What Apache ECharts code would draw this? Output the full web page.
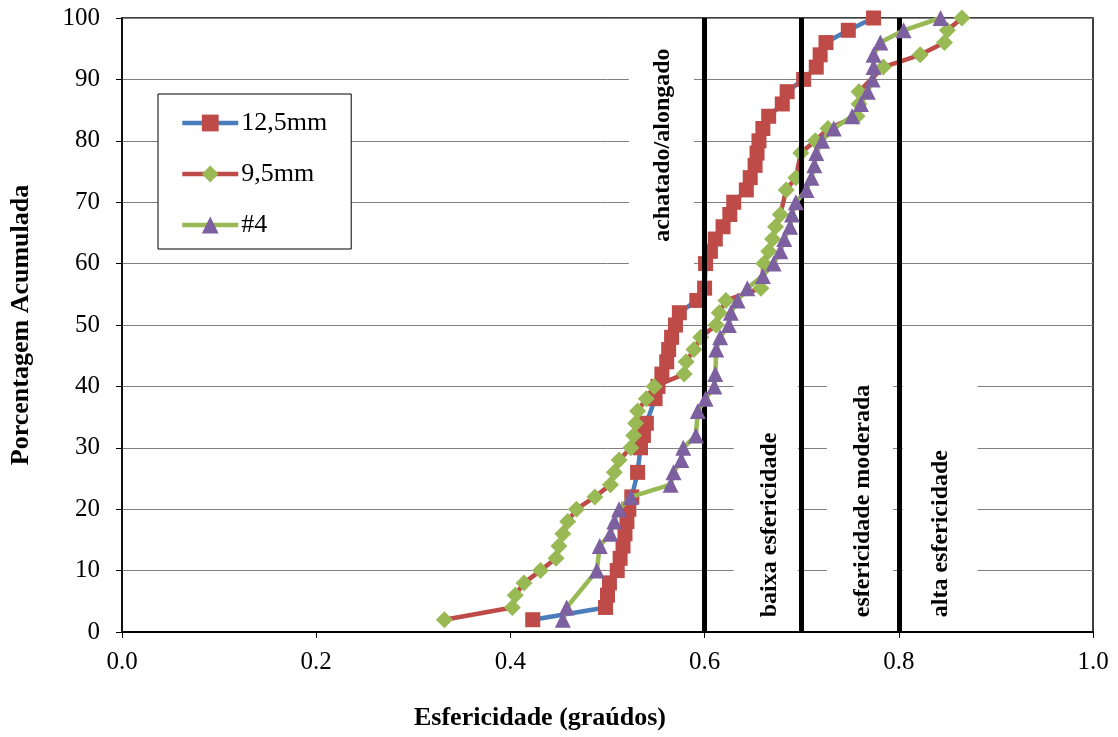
<!DOCTYPE html>
<html>
<head>
<meta charset="utf-8">
<script src="https://cdn.jsdelivr.net/npm/echarts@6/dist/echarts.min.js"></script>
<style>
  html, body { margin: 0; padding: 0; background: #fff; }
  #chart { width: 1118px; height: 737px; }
</style>
</head>
<body>
<div id="chart"></div>
<script>
// Cumulative sphericity curves for three coarse aggregate fractions
const seriesNames = ['12,5mm', '9,5mm', '#4'];

// 12,5mm fraction
const esf125 = [0.423, 0.498, 0.500, 0.502, 0.510, 0.513, 0.516, 0.518, 0.520, 0.522, 0.525,
  0.531, 0.534, 0.537, 0.540, 0.549, 0.552, 0.556, 0.561, 0.563, 0.566, 0.570, 0.574, 0.592, 0.600,
  0.601, 0.606, 0.611, 0.619, 0.626, 0.630, 0.643, 0.647, 0.652, 0.654, 0.656,
  0.660, 0.666, 0.680, 0.685, 0.702, 0.715, 0.719, 0.725, 0.748, 0.774];
const pct125 = [2, 4, 6, 8, 10, 12, 14, 16, 18, 20, 22,
  26, 30, 32, 34, 38, 40, 42, 44, 46, 48, 50, 52, 54, 56,
  60, 62, 64, 66, 68, 70, 72, 74, 76, 78, 80,
  82, 84, 86, 88, 90, 92, 94, 96, 98, 100];

// 9,5mm fraction
const esf95 = [0.332, 0.402, 0.405, 0.414, 0.431, 0.447, 0.450, 0.454, 0.459, 0.468,
  0.487, 0.503, 0.507, 0.512, 0.524, 0.527, 0.529, 0.531, 0.540, 0.548,
  0.579, 0.581, 0.589, 0.596, 0.612, 0.615, 0.622, 0.658,
  0.661, 0.666, 0.670, 0.673, 0.678, 0.684, 0.694, 0.699, 0.714,
  0.727, 0.757, 0.759, 0.759, 0.784, 0.822, 0.847, 0.850, 0.865];
const pct95 = [2, 4, 6, 8, 10, 12, 14, 16, 18, 20,
  22, 24, 26, 28, 30, 32, 34, 36, 38, 40,
  42, 44, 46, 48, 50, 52, 54, 56,
  60, 62, 64, 66, 68, 72, 74, 78, 80,
  82, 84, 86, 88, 92, 94, 96, 98, 100];

// #4 fraction
const esf4 = [0.454, 0.458, 0.489, 0.492, 0.503, 0.507, 0.512, 0.524,
  0.565, 0.568, 0.576, 0.578, 0.591, 0.593, 0.601, 0.610, 0.611,
  0.612, 0.616, 0.625, 0.627, 0.634, 0.644, 0.660, 0.671,
  0.678, 0.682, 0.688, 0.690, 0.694, 0.705, 0.710, 0.713, 0.715, 0.721,
  0.733, 0.752, 0.761, 0.768, 0.773, 0.774, 0.774, 0.781, 0.805, 0.843];
const pct4 = [2, 4, 10, 14, 16, 18, 20, 22,
  24, 26, 28, 30, 32, 36, 38, 40, 42,
  46, 48, 50, 52, 54, 56, 58, 60,
  62, 64, 66, 68, 70, 72, 74, 76, 78, 80,
  82, 84, 86, 88, 90, 92, 94, 96, 98, 100];

// Class boundaries on the sphericity axis
const classLimits = [0.6, 0.7, 0.8];
const classNames = ['achatado/alongado', 'baixa esfericidade', 'esfericidade moderada', 'alta esfericidade'];

const xTicks = [0, 0.2, 0.4, 0.6, 0.8, 1.0];

const SERIF = '"Liberation Serif", "Times New Roman", serif';

const pairs = (xs, ys) => xs.map((x, i) => [x, ys[i]]);

const chart = echarts.init(document.getElementById('chart'), null, { renderer: 'canvas' });

const styles = [
  { line: '#4A7EBB', mark: '#BE4B48', symbol: 'rect', size: 15 },
  { line: '#BE4B48', mark: '#98B954', symbol: 'diamond', size: 17 },
  { line: '#98B954', mark: '#7D60A0', symbol: 'triangle', size: 16 }
];
const dataSets = [pairs(esf125, pct125), pairs(esf95, pct95), pairs(esf4, pct4)];

const series = dataSets.map((d, i) => ({
  name: seriesNames[i],
  type: 'line',
  data: d,
  symbol: styles[i].symbol,
  symbolSize: styles[i].size,
  lineStyle: { color: styles[i].line, width: 4.5 },
  itemStyle: { color: styles[i].mark },
  z: 3 + i,
  animation: false
}));

// Thick vertical class boundaries
series.push({
  name: 'limites',
  type: 'line',
  data: [],
  z: 10,
  markLine: {
    silent: true,
    symbol: ['none', 'none'],
    label: { show: false },
    lineStyle: { color: '#000', width: 5, type: 'solid' },
    data: classLimits.map(v => ({ xAxis: v }))
  },
  animation: false
});

chart.setOption({
  animation: false,
  grid: { left: 120, right: 25, top: 18, bottom: 105, show: true, borderColor: '#000', borderWidth: 1.5, backgroundColor: 'transparent' },
  legend: {
    data: seriesNames,
    orient: 'vertical',
    left: 158,
    top: 94,
    padding: [16, 24, 11, 22],
    itemWidth: 56,
    itemHeight: 21,
    itemGap: 25,
    backgroundColor: '#fff',
    borderColor: '#000',
    borderWidth: 1,
    lineStyle: { width: 4.5 },
    textStyle: { fontFamily: SERIF, fontSize: 26, color: '#000', padding: [0, 0, 0, -2] }
  },
  xAxis: {
    type: 'value',
    min: xTicks[0],
    max: xTicks[xTicks.length - 1],
    interval: 0.2,
    axisLine: { show: true, lineStyle: { color: '#000', width: 2 } },
    axisTick: { show: true, length: 6, lineStyle: { color: '#000' } },
    splitLine: { show: false },
    axisLabel: { fontFamily: SERIF, fontSize: 25, color: '#000', margin: 18, formatter: v => v.toFixed(1) }
  },
  yAxis: {
    type: 'value',
    min: 0,
    max: 100,
    interval: 10,
    name: 'Porcentagem Acumulada',
    nameLocation: 'middle',
    nameRotate: 90,
    nameGap: 88,
    nameTextStyle: { fontFamily: SERIF, fontSize: 26, fontWeight: 'bold', color: '#000' },
    axisLine: { show: true, lineStyle: { color: '#000', width: 1.5 } },
    axisTick: { show: true, length: 6, lineStyle: { color: '#000' } },
    splitLine: { show: true, lineStyle: { color: '#808080', width: 1 } },
    axisLabel: { fontFamily: SERIF, fontSize: 25, color: '#000', margin: 22 }
  },
  series: series
});

// Text boxes naming each sphericity class, placed in data coordinates
const classBoxes = [
  { name: classNames[0], x0: 0.522, x1: 0.589, yTop: 98.8, yBot: 55.7, tx: 0.557, ty: 79.3, align: 'center' },
  { name: classNames[1], x0: 0.630, x1: 0.696, yTop: 46.5, yBot: 0.3, tx: 0.667, ty: 2.4, align: 'left' },
  { name: classNames[2], x0: 0.726, x1: 0.794, yTop: 46.5, yBot: 0.3, tx: 0.763, ty: 2.4, align: 'left' },
  { name: classNames[3], x0: 0.804, x1: 0.881, yTop: 46.5, yBot: 0.3, tx: 0.843, ty: 2.4, align: 'left' }
];

const graphics = [];
classBoxes.forEach(b => {
  const p0 = chart.convertToPixel({ gridIndex: 0 }, [b.x0, b.yTop]);
  const p1 = chart.convertToPixel({ gridIndex: 0 }, [b.x1, b.yBot]);
  graphics.push({
    type: 'rect', silent: true, z: 1,
    shape: { x: p0[0], y: p0[1], width: p1[0] - p0[0], height: p1[1] - p0[1] },
    style: { fill: '#fff' }
  });
  const t = chart.convertToPixel({ gridIndex: 0 }, [b.tx, b.ty]);
  graphics.push({
    type: 'text', silent: true, z: 2,
    x: t[0], y: t[1], rotation: Math.PI / 2,
    style: { text: b.name, font: 'bold 24px ' + SERIF, fill: '#000', align: b.align, verticalAlign: 'middle' }
  });
});

// Horizontal axis title
graphics.push({
  type: 'text', silent: true, z: 2,
  x: 540, y: 718,
  style: { text: 'Esfericidade (graúdos)', font: 'bold 26px ' + SERIF, fill: '#000', align: 'center', verticalAlign: 'middle' }
});

chart.setOption({ graphic: graphics });
</script>
</body>
</html>
